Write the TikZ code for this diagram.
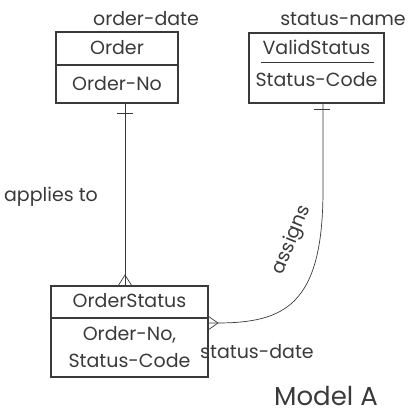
\documentclass[tikz,border=0pt]{standalone}
\usepackage{fontspec}
\setmainfont{Poppins}
\usepackage{tikz}

\definecolor{inkgray}{HTML}{3A3A3A}

\begin{document}
\begin{tikzpicture}[x=1pt, y=-1pt, every node/.style={font=\fontsize{19}{23}\selectfont, text=inkgray},
    entbox/.style={draw=inkgray, line width=1.1pt, inner sep=0pt},
    rel/.style={draw=inkgray, line width=0.7pt}]
    \useasboundingbox (0,0) rectangle (410,416);

    % ---------- Order ----------
    \node[entbox, minimum width=122, minimum height=71] (order) at (117,67.5) {};
    \draw[entbox] (order.west |- 0,65) -- (order.east |- 0,65);
    \node (ordername) at (117,48) {Order};
    \node (orderkey) at (117,84) {Order-No};
    \node (orderattr) at (146,19) {order-date};

    % ---------- ValidStatus ----------
    \node[entbox, minimum width=135, minimum height=70] (vstatus) at (316.5,68) {};
    \node (vstatusname) at (316.5,47) {ValidStatus};
    \draw[entbox, line width=0.8pt] (261,62) -- (374,62);
    \node (vstatuskey) at (316.5,80) {Status-Code};
    \node (vstatusattr) at (343,19) {status-name};

    % ---------- OrderStatus ----------
    \node[entbox, minimum width=157, minimum height=91] (ostatus) at (129.5,331.5) {};
    \draw[entbox] (ostatus.west |- 0,318) -- (ostatus.east |- 0,318);
    \node (ostatusname) at (129.5,301) {OrderStatus};
    \node[align=center, font=\fontsize{19}{27}\selectfont] (ostatuskey) at (129.5,347) {Order-No,\\Status-Code};
    \node (ostatusattr) at (257,352) {status-date};

    % applies to: one Order, many OrderStatus
    \draw[rel] ([xshift=8]order.south) -- ([xshift=-4.5]ostatus.north);
    \draw[rel] (117,113) -- (133,113);
    \draw[rel] (118,286) -- (125,275) -- (132,286);
    \node (applies) at (51,197) {applies to};

    % assigns: one ValidStatus, many OrderStatus
    \draw[rel] ([yshift=8.5]ostatus.east) -- ++(8,0)
        .. controls (285,323) and (323,305) .. (323,190) -- ([xshift=6.5]vstatus.south);
    \draw[rel] (314,109) -- (330,109);
    \draw[rel] (208,316) -- (218,323) -- (208,330);
    \node[rotate=68] (assigns) at (292,240) {assigns};

    \node[font=\fontsize{26}{31}\selectfont] (model) at (326,396) {Model A};
  \end{tikzpicture}
\end{document}
